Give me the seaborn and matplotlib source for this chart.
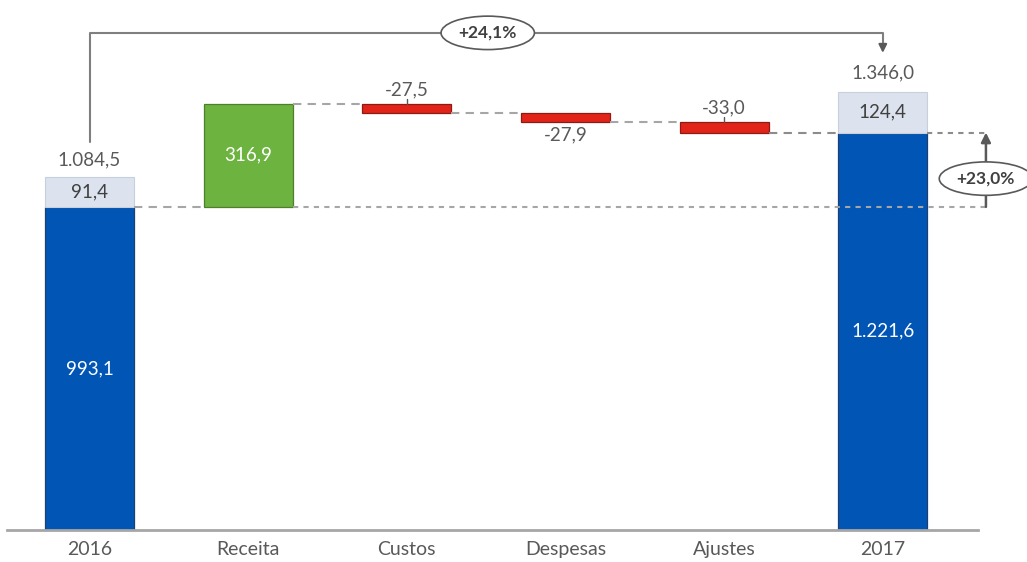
import numpy as np
import matplotlib
matplotlib.use("Agg")
import matplotlib.pyplot as plt
import seaborn as sns

# dados
categorias = ['2016', 'Receita', 'Custos', 'Despesas', 'Ajustes', '2017']
valor_inicial = 993.1
variacoes = [316.9, -27.5, -27.9, -33.0]
extras = [91.4, 124.4]

cor_azul = '#0055B5'
cor_clara = '#DCE3EE'
cor_verde = '#6DB33F'
cor_vermelho = '#E2231A'
cor_texto = '#595959'
fs = 13.5


def fmt(v, casas=1):
    s = f"{abs(v):,.{casas}f}".replace(',', 'X').replace('.', ',').replace('X', '.')
    return ('-' if v < 0 else '') + s


# montar o waterfall
acumulado = np.cumsum([valor_inicial] + variacoes)
valor_final = acumulado[-1]
bases = [0] + [min(acumulado[i], acumulado[i + 1]) for i in range(len(variacoes))] + [0]
alturas = [valor_inicial] + [abs(v) for v in variacoes] + [valor_final]
cores = [cor_azul, cor_verde] + [cor_vermelho] * 3 + [cor_azul]
bordas = ['#1F3F73', '#4E7F2C', '#8E1A14', '#8E1A14', '#8E1A14', '#1F3F73']
totais = [valor_inicial + extras[0], valor_final + extras[1]]

sns.set_style("white")
plt.rcParams['font.family'] = ['Lato', 'DejaVu Sans']

fig = plt.figure(figsize=(10.27, 5.62), dpi=100)
ax = fig.add_axes([7 / 1027, 32 / 562, 971 / 1027, 530 / 562])

larg = 0.56
sns.barplot(x=categorias, y=alturas, bottom=bases, width=larg, color=cor_azul,
            errorbar=None, ax=ax, linewidth=0.9, saturation=1)
for p, c, e in zip(ax.patches, cores, bordas):
    p.set_facecolor(c)
    p.set_edgecolor(e)

# parte clara (2016 e 2017)
ax.bar([0, 5], extras, bottom=[valor_inicial, valor_final], width=larg,
       color=cor_clara, edgecolor='#C8D0DC', linewidth=0.8)

ax.set_xlim(-0.52, 5.6)
ax.set_ylim(0, 1629)
ax.set_yticks([])
ax.set_ylabel('')
sns.despine(ax=ax, left=True)
ax.spines['bottom'].set_color('#A6A6A6')
ax.spines['bottom'].set_linewidth(2)
ax.tick_params(axis='x', length=0, pad=8, labelsize=14, colors=cor_texto)

h = larg / 2
# linhas de ligação
ax.plot([0 + h, 1 - h], [valor_inicial] * 2, ls=(0, (4, 3)), color='#A6A6A6', lw=1.5)
ax.plot([1 + h, 5.67], [valor_inicial] * 2, ls=(0, (2.5, 2.5)), color='#A6A6A6', lw=1.5, clip_on=False)
for i in range(1, 4):
    ax.plot([i + h, i + 1 - h], [acumulado[i]] * 2, ls=(0, (4, 3)), color='#A6A6A6', lw=1.5)
ax.plot([4 + h, 5 - h], [valor_final] * 2, ls=(0, (4, 3)), color='#8C8C8C', lw=1.5)
ax.plot([5 + h, 5.67], [valor_final] * 2, ls=(0, (2.5, 2.5)), color='#8C8C8C', lw=1.5, clip_on=False)

# rótulos
ax.text(0, valor_inicial / 2, fmt(valor_inicial), ha='center', va='center', color='white', fontsize=fs)
ax.text(5, valor_final / 2, fmt(valor_final), ha='center', va='center', color='white', fontsize=fs)
ax.text(0, valor_inicial + extras[0] / 2, fmt(extras[0]), ha='center', va='center', color='#404040', fontsize=fs)
ax.text(5, valor_final + extras[1] / 2, fmt(extras[1]), ha='center', va='center', color='#404040', fontsize=fs)
ax.annotate(fmt(totais[0]), (0, totais[0]), xytext=(0, 6), textcoords='offset points',
            ha='center', va='bottom', color=cor_texto, fontsize=fs)
ax.annotate(fmt(totais[1]), (5, totais[1]), xytext=(0, 8), textcoords='offset points',
            ha='center', va='bottom', color=cor_texto, fontsize=fs)
ax.text(1, acumulado[0] + variacoes[0] / 2, fmt(variacoes[0]), ha='center', va='center',
        color='white', fontsize=fs)

for i, pos in [(1, 'cima'), (2, 'baixo'), (3, 'cima')]:
    v = variacoes[i]
    topo = acumulado[i]
    fundo = acumulado[i + 1]
    if pos == 'cima':
        ax.plot([i + 1, i + 1], [topo, topo + 14], color='#595959', lw=1)
        ax.annotate(fmt(v), (i + 1, topo), xytext=(0, 4), textcoords='offset points',
                    ha='center', va='bottom', color=cor_texto, fontsize=fs)
    else:
        ax.annotate(fmt(v), (i + 1, fundo), xytext=(0, -3), textcoords='offset points',
                    ha='center', va='top', color=cor_texto, fontsize=fs)

# colchete +24,1%
y_topo = 1528
ax.plot([0, 0, 5, 5], [1193, y_topo, y_topo, 1490], color='#7F7F7F', lw=1.5, clip_on=False)
ax.annotate('', xy=(5, 1458), xytext=(5, 1495),
            arrowprops=dict(arrowstyle='-|>', color='#595959', lw=1.5, mutation_scale=12),
            annotation_clip=False)
pct1 = (totais[1] / totais[0] - 1) * 100
ax.text(2.51, y_topo, '+' + fmt(pct1) + '%', ha='center', va='center', fontsize=12.5,
        fontweight='bold', color='#404040', clip_on=False,
        bbox=dict(boxstyle='ellipse,pad=0.22', fc='white', ec='#595959', lw=1.2))

# seta +23,0%
pct2 = (valor_final / valor_inicial - 1) * 100
ax.annotate('', xy=(5.65, valor_final), xytext=(5.65, valor_inicial),
            arrowprops=dict(arrowstyle='-|>', color='#595959', lw=1.8, mutation_scale=14,
                            shrinkA=0, shrinkB=0),
            annotation_clip=False)
ax.text(5.65, 1080, '+' + fmt(pct2) + '%', ha='center', va='center', fontsize=12.5,
        fontweight='bold', color='#404040', clip_on=False,
        bbox=dict(boxstyle='ellipse,pad=0.22', fc='white', ec='#595959', lw=1.2))

fig.savefig('out.png', dpi=100)
